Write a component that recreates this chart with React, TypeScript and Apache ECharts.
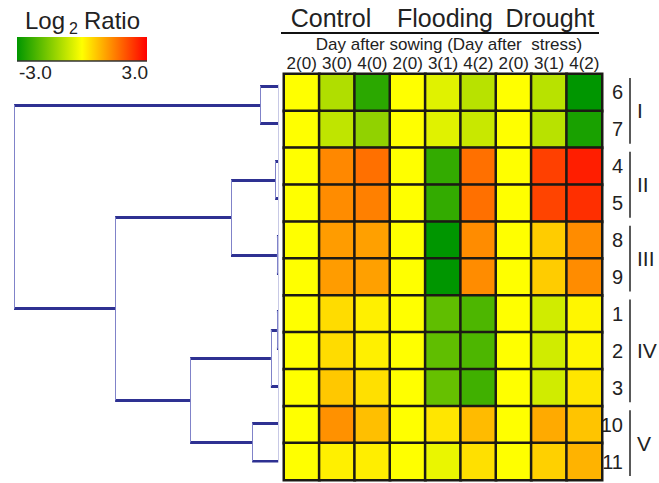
import React, { useEffect, useRef } from "react";
import * as echarts from "echarts";

// ---- data ----
const columnLabels = ["2(0)", "3(0)", "4(0)", "2(0)", "3(1)", "4(2)", "2(0)", "3(1)", "4(2)"];
const conditions = ["Control", "Flooding", "Drought"];
const subtitle = "Day after sowing (Day after  stress)";
const rowLabels = ["6", "7", "4", "5", "8", "9", "1", "2", "3", "10", "11"];

const row6 = [0, -0.93, -2.5, 0, -0.36, -0.83, 0, -0.83, -3.0];
const row7 = [0, -0.75, -1.3, 0, -0.36, -0.65, 0, -0.83, -2.7];
const row4 = [0, 1.4, 1.68, 0, -2.4, 1.68, 0, 2.25, 2.65];
const row5 = [0, 1.35, 1.5, 0, -2.4, 1.68, 0, 2.2, 2.45];
const row8 = [0, 1.16, 1.12, 0, -3.0, 1.35, 0, 0.6, 1.35];
const row9 = [0, 1.16, 1.12, 0, -3.0, 1.35, 0, 0.6, 1.35];
const row1 = [0, 0.41, 0.18, 0, -1.87, -2.1, 0, -0.55, 0.1];
const row2 = [0, 0.41, 0.18, 0, -1.87, -2.1, 0, -0.55, 0.1];
const row3 = [0, 0.65, 0.37, 0, -1.8, -2.25, 0, -0.55, 0.3];
const row10 = [0, 1.3, 0.75, 0, 0.3, 0.8, 0, 1.0, 0.7];
const row11 = [0, 0.18, 0.2, 0, -0.25, 0.37, 0, 0.55, 0.9];
const matrix = [row6, row7, row4, row5, row8, row9, row1, row2, row3, row10, row11];

const groupNames = ["I", "II", "III", "IV", "V"];
const groupRows = [[0, 1], [2, 3], [4, 5], [6, 8], [9, 10]];

// linkage: [childA, childB, height]; ids < 11 are leaves (row index), >= 11 earlier merges
const merges = [
  [0, 1, 0.068],
  [2, 3, 0.011],
  [4, 5, 0.004],
  [12, 13, 0.178],
  [6, 7, 0.004],
  [15, 8, 0.027],
  [9, 10, 0.098],
  [16, 17, 0.333],
  [14, 18, 0.617],
  [11, 19, 1.0],
];

const legendMin = -3;
const legendMax = 3;
const legendColors = ["#009600", "#ffff00", "#ff0000"];

export default function App() {
  const ref = useRef<HTMLDivElement>(null);
  useEffect(() => {
    if (!ref.current) return;
    const chart = echarts.init(ref.current, null, { renderer: "svg" });

    const font = "'Liberation Sans', Arial, sans-serif";
    const heatData: number[][] = [];
    matrix.forEach((row, r) => row.forEach((v, c) => heatData.push([c, r, v])));

    // dendrogram segments
    const n = rowLabels.length;
    const pos: number[] = rowLabels.map((_, i) => i);
    const hgt: number[] = rowLabels.map(() => 0);
    const segs: any[] = [];
    const hStyle = { color: "#2e3192", width: 3, type: "solid", opacity: 1 };
    const vStyle = { color: "#8083c9", width: 1, type: "solid", opacity: 1 };
    merges.forEach((m, k) => {
      const [a, b, h] = m;
      const id = n + k;
      pos[id] = (pos[a] + pos[b]) / 2;
      hgt[id] = h;
      segs.push({ coords: [[hgt[a], pos[a]], [h, pos[a]]], lineStyle: hStyle });
      segs.push({ coords: [[hgt[b], pos[b]], [h, pos[b]]], lineStyle: hStyle });
      segs.push({ coords: [[h, pos[a]], [h, pos[b]]], lineStyle: vStyle });
    });
    // faint baseline at the leaves
    segs.push({ coords: [[0, -0.2], [0, n - 0.6]], lineStyle: { color: "#c8c9e6", width: 1, type: "solid", opacity: 1 } });

    const gL = 284, gT = 74, gW = 318, gH = 406;
    const cw = gW / columnLabels.length;
    const rh = gH / rowLabels.length;

    const graphics: any[] = [];
    // legend title
    graphics.push({ type: "text", x: 25, y: 20, style: { text: "Log", font: `24px ${font}`, fill: "#222", textVerticalAlign: "middle" } });
    graphics.push({ type: "text", x: 69, y: 28, style: { text: "2", font: `16px ${font}`, fill: "#222", textVerticalAlign: "middle" } });
    graphics.push({ type: "text", x: 84, y: 20, style: { text: "Ratio", font: `24px ${font}`, fill: "#222", textVerticalAlign: "middle" } });
    graphics.push({
      type: "rect",
      shape: { x: 17, y: 37, width: 130, height: 24 },
      style: {
        fill: new echarts.graphic.LinearGradient(0, 0, 1, 0,
          legendColors.map((c, i) => ({ offset: i / (legendColors.length - 1), color: c }))),
      },
    });
    graphics.push({ type: "line", shape: { x1: 17, y1: 61, x2: 147, y2: 61 }, style: { stroke: "#333", lineWidth: 1.5 } });
    graphics.push({ type: "text", x: 19, y: 72, style: { text: legendMin.toFixed(1), font: `19px ${font}`, fill: "#222", textVerticalAlign: "middle" } });
    graphics.push({ type: "text", x: 148, y: 72, style: { text: legendMax.toFixed(1), font: `19px ${font}`, fill: "#222", textAlign: "right", textVerticalAlign: "middle" } });

    // condition headers
    const headerShift = [-6, 2, 1];
    conditions.forEach((name, g) => {
      const x0 = gL + g * 3 * cw;
      const x1 = x0 + 3 * cw;
      graphics.push({ type: "text", x: (x0 + x1) / 2 + headerShift[g], y: 18, style: { text: name, font: `25px ${font}`, fill: "#222", textAlign: "center", textVerticalAlign: "middle" } });
      graphics.push({ type: "line", shape: { x1: x0 - 3, y1: 33, x2: x1 - 3, y2: 33 }, style: { stroke: "#111", lineWidth: 2 } });
    });
    graphics.push({ type: "text", x: gL + gW / 2 + 6, y: 44, style: { text: subtitle, font: `17px ${font}`, fill: "#222", textAlign: "center", textVerticalAlign: "middle" } });

    // group brackets
    groupNames.forEach((name, i) => {
      const [s, e] = groupRows[i];
      const yTop = gT + s * rh + 4;
      const yBot = gT + (e + 1) * rh - 4;
      graphics.push({ type: "line", shape: { x1: 630, y1: yTop, x2: 630, y2: yBot }, style: { stroke: "#222", lineWidth: 1.5 } });
      graphics.push({ type: "text", x: 637, y: (yTop + yBot) / 2, style: { text: name, font: `21px ${font}`, fill: "#222", textVerticalAlign: "middle" } });
    });

    chart.setOption({
      animation: false,
      backgroundColor: "#ffffff",
      textStyle: { fontFamily: font },
      grid: [
        { left: gL, top: gT, width: gW, height: gH },
        { left: 14, top: 86, width: 264, height: 375 },
      ],
      xAxis: [
        {
          type: "category",
          gridIndex: 0,
          position: "top",
          data: columnLabels,
          axisLine: { show: false },
          axisTick: { show: false },
          splitLine: { show: false },
          axisLabel: { fontSize: 17, lineHeight: 15, color: "#222", margin: 3, interval: 0, fontFamily: font },
        },
        { type: "value", gridIndex: 1, min: 0, max: 1, inverse: true, show: false },
      ],
      yAxis: [
        {
          type: "category",
          gridIndex: 0,
          position: "right",
          inverse: true,
          data: rowLabels,
          axisLine: { show: false },
          axisTick: { show: false },
          splitLine: { show: false },
          axisLabel: { fontSize: 20, color: "#222", margin: 21, align: "right", fontFamily: font },
        },
        { type: "value", gridIndex: 1, min: 0, max: n - 1, inverse: true, show: false },
      ],
      visualMap: {
        show: false,
        min: legendMin,
        max: legendMax,
        seriesIndex: 0,
        inRange: { color: legendColors },
      },
      series: [
        {
          type: "heatmap",
          xAxisIndex: 0,
          yAxisIndex: 0,
          data: heatData,
          itemStyle: { borderColor: "#1c1a14", borderWidth: 2.5 },
          emphasis: { disabled: true },
          silent: true,
        },
        {
          type: "lines",
          coordinateSystem: "cartesian2d",
          xAxisIndex: 1,
          yAxisIndex: 1,
          data: segs,
          silent: true,
          lineStyle: { color: "#2e3192", width: 3 },
        },
      ],
      graphic: graphics,
    });

    return () => chart.dispose();
  }, []);

  return (
    <div
      ref={ref}
      style={{ position: "fixed", left: 0, top: 0, width: 659, height: 483, background: "#fff" }}
    />
  );
}
